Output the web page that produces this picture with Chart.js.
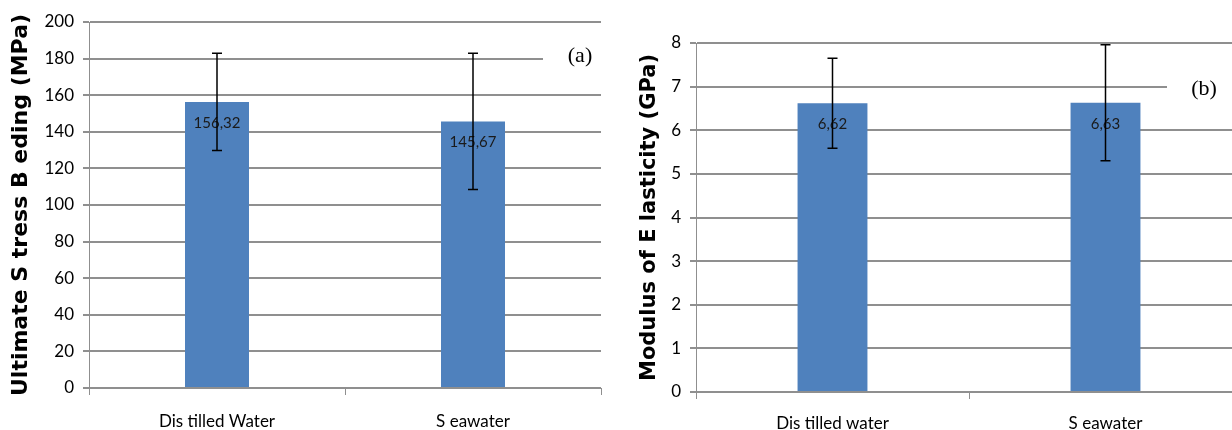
<!DOCTYPE html>
<html>
<head>
<meta charset="utf-8">
<script src="https://cdn.jsdelivr.net/npm/chart.js@4.4.1/dist/chart.umd.min.js"></script>
<style>
  html, body { margin:0; padding:0; background:#fff; overflow:hidden; }
  body { width:1232px; height:430px; position:relative; }
  .panel { position:absolute; top:0; }
  #wrapA { left:0; }
  #wrapB { left:610px; }
</style>
</head>
<body>
<div class="panel" id="wrapA"><canvas id="chartA" width="610" height="430"></canvas></div>
<div class="panel" id="wrapB"><canvas id="chartB" width="640" height="430"></canvas></div>
<script>
// panel (a): ultimate bending stress
const catsA = ['Dis tilled Water', 'S eawater'];
const stressMean = [156.32, 145.67];
const stressErr = [26.6, 37.2];
const stressTicks = [0, 20, 40, 60, 80, 100, 120, 140, 160, 180, 200];

// panel (b): modulus of elasticity
const catsB = ['Dis tilled water', 'S eawater'];
const modulusMean = [6.62, 6.63];
const modulusErr = [1.03, 1.33];
const modulusTicks = [0, 1, 2, 3, 4, 5, 6, 7, 8];

const BAR = '#4f81bd';
const GRID = '#8f8f8f';
const SANS = 'Lato, "Liberation Sans", sans-serif';

const fmt = (v) => v.toFixed(2).replace('.', ',');

const overlay = {
  id: 'overlay',
  afterDatasetsDraw(chart, args, opts){
    const ctx = chart.ctx;
    const y = chart.scales.y;
    const meta = chart.getDatasetMeta(0);
    const vals = chart.data.datasets[0].data;
    ctx.save();
    meta.data.forEach((bar, i) => {
      // value label inside the bar
      ctx.fillStyle = '#1a1a1a';
      ctx.font = '15px ' + SANS;
      ctx.textAlign = 'center';
      ctx.textBaseline = 'middle';
      ctx.fillText(fmt(vals[i]), bar.x, bar.y + 21);
      // error bar
      const e = opts.errors[i];
      const top = y.getPixelForValue(vals[i] + e);
      const bot = y.getPixelForValue(vals[i] - e);
      ctx.strokeStyle = '#000';
      ctx.lineWidth = 1.5;
      ctx.beginPath();
      ctx.moveTo(bar.x, top); ctx.lineTo(bar.x, bot);
      ctx.moveTo(bar.x - 5, top); ctx.lineTo(bar.x + 5, top);
      ctx.moveTo(bar.x - 5, bot); ctx.lineTo(bar.x + 5, bot);
      ctx.stroke();
    });
    ctx.restore();
  },
  afterDraw(chart, args, opts){
    const ctx = chart.ctx;
    const ya = chart.scales.y.getPixelForValue(opts.tagAt);
    const r = chart.chartArea.right;
    ctx.save();
    ctx.fillStyle = '#fff';
    ctx.fillRect(r - opts.boxW, ya - 12, opts.boxW + 10, 24);
    ctx.fillStyle = '#000';
    ctx.font = '22px "Liberation Serif", "DejaVu Serif", serif';
    ctx.textAlign = 'center';
    ctx.textBaseline = 'middle';
    ctx.fillText(opts.tag, r - opts.tagDx, ya + opts.tagDy);
    ctx.restore();
  }
};

function makeChart(id, cats, vals, errs, ticks, cfg){
  return new Chart(document.getElementById(id), {
    type: 'bar',
    data: {
      labels: cats,
      datasets: [{
        data: vals,
        backgroundColor: BAR,
        borderWidth: 0,
        categoryPercentage: 1,
        barPercentage: cfg.barPct,
      }]
    },
    options: {
      responsive: false,
      animation: false,
      layout: { padding: { top: cfg.top, right: cfg.right, left: 0, bottom: 0 } },
      plugins: {
        legend: { display: false },
        tooltip: { enabled: false },
        overlay: { errors: errs, tag: cfg.tag, tagAt: cfg.tagAt, tagDx: cfg.tagDx, tagDy: cfg.tagDy, boxW: cfg.boxW }
      },
      scales: {
        x: {
          grid: { display: true, drawOnChartArea: false, drawTicks: true, tickLength: 7, color: GRID, lineWidth: 1 },
          border: { display: false },
          ticks: { color: '#000', font: { family: SANS, size: 17 }, padding: cfg.xPad, maxRotation: 0 },
          afterFit(s){ s.height = cfg.xH; }
        },
        y: {
          min: 0,
          max: ticks[ticks.length - 1],
          afterBuildTicks(s){ s.ticks = ticks.map(v => ({ value: v })); },
          grid: { color: GRID, lineWidth: 2, tickLength: 6 },
          border: { display: true, color: GRID, width: 1 },
          ticks: { color: '#000', font: { family: SANS, size: 17 }, padding: 9 },
          title: {
            display: true,
            text: cfg.title,
            color: '#000',
            font: { family: '"DejaVu Sans", "Liberation Sans", sans-serif', size: cfg.titleSize, weight: 'bold' },
            padding: { top: cfg.titlePad, bottom: 0 }
          },
          afterFit(s){ s.width = cfg.yW; }
        }
      }
    },
    plugins: [overlay]
  });
}

makeChart('chartA', catsA, stressMean, stressErr, stressTicks, {
  barPct: 0.25, top: 22, right: 9, xH: 42, xPad: 16, yW: 89,
  title: 'Ultimate S tress B eding (MPa)', titleSize: 22, titlePad: 8,
  tag: '(a)', tagAt: 180, tagDx: 21, tagDy: -2, boxW: 58
});

makeChart('chartB', catsB, modulusMean, modulusErr, modulusTicks, {
  barPct: 0.256, top: 43, right: 8, xH: 38, xPad: 14, yW: 86,
  title: 'Modulus of E lasticity (GPa)', titleSize: 21, titlePad: 27,
  tag: '(b)', tagAt: 7, tagDx: 38, tagDy: 2.5, boxW: 75
});
</script>
</body>
</html>
